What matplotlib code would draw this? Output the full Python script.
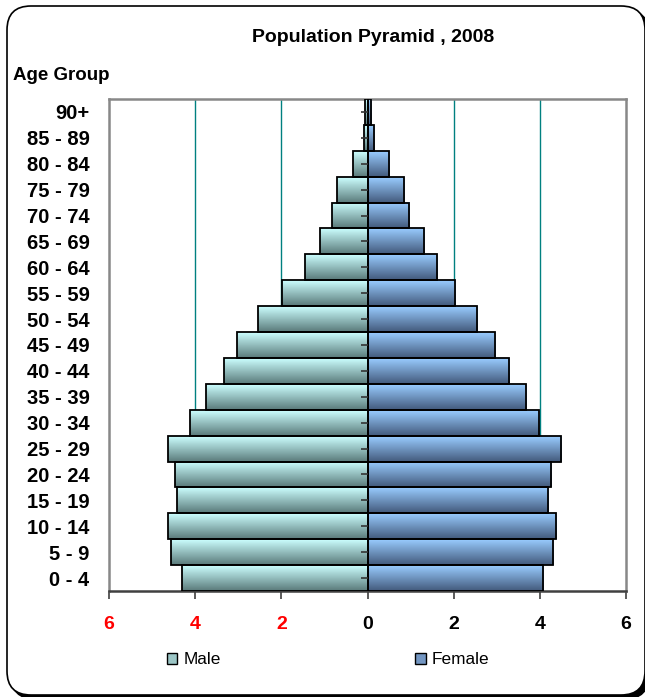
import numpy as np
import matplotlib
matplotlib.use("Agg")
import matplotlib.pyplot as plt
from matplotlib.colors import LinearSegmentedColormap
from matplotlib.patches import FancyBboxPatch, Patch

plt.rcParams['font.family'] = ['Liberation Sans', 'DejaVu Sans']

age_groups = ["0 - 4", "5 - 9", "10 - 14", "15 - 19", "20 - 24", "25 - 29",
              "30 - 34", "35 - 39", "40 - 44", "45 - 49", "50 - 54", "55 - 59",
              "60 - 64", "65 - 69", "70 - 74", "75 - 79", "80 - 84", "85 - 89", "90+"]
male = [4.31, 4.55, 4.62, 4.43, 4.47, 4.62, 4.11, 3.76, 3.33, 3.02, 2.55, 1.99,
        1.46, 1.10, 0.82, 0.71, 0.33, 0.09, 0.05]
female = [4.07, 4.31, 4.38, 4.19, 4.27, 4.50, 3.99, 3.68, 3.28, 2.97, 2.54, 2.03,
          1.61, 1.30, 0.97, 0.85, 0.51, 0.15, 0.08]
xticks = [-6, -4, -2, 0, 2, 4, 6]
xtick_labels = ["6", "4", "2", "0", "2", "4", "6"]

male_cmap = LinearSegmentedColormap.from_list("m", ["#ccffff", "#5a7a7a"])
female_cmap = LinearSegmentedColormap.from_list("f", ["#99ccff", "#435a7c"])

fig = plt.figure(figsize=(6.45, 6.97), dpi=100)

# outer rounded frame with a shadow, in pixels (right side runs off the canvas)
shadow = FancyBboxPatch((11, -2), 638, 689, boxstyle="round,pad=0,rounding_size=24",
                        transform=None, facecolor="black", edgecolor="black", zorder=-3)
frame = FancyBboxPatch((7, 2), 638, 689, boxstyle="round,pad=0,rounding_size=24",
                       transform=None, facecolor="white", edgecolor="black",
                       linewidth=1.2, zorder=-2)
fig.patches.extend([shadow, frame])

ax = fig.add_axes([109 / 645, 1 - 591 / 697, 517 / 645, 492 / 697])
ax.set_facecolor("none")

y = np.arange(len(age_groups))
m_neg = -np.array(male)
f_pos = np.array(female)

grad = np.linspace(0, 1, 64).reshape(-1, 1)
for bars, cmap in [(ax.barh(y, m_neg, height=1.0, facecolor="none", edgecolor="black",
                            linewidth=1.3, zorder=4), male_cmap),
                   (ax.barh(y, f_pos, height=1.0, facecolor="none", edgecolor="black",
                            linewidth=1.3, zorder=4), female_cmap)]:
    for b in bars:
        x0, y0 = b.get_x(), b.get_y()
        x1, y1 = x0 + b.get_width(), y0 + b.get_height()
        ax.imshow(grad, cmap=cmap, extent=[min(x0, x1), max(x0, x1), y0, y1],
                  origin="upper", aspect="auto", zorder=3, interpolation="bilinear")

# small ticks on the centre axis
ax.plot(np.zeros(len(y)), y, linestyle="none", marker=0, markersize=5,
        color="#333333", markeredgewidth=1.2, zorder=5)

ax.set_xlim(-6, 6)
ax.set_ylim(-0.5, len(age_groups) - 0.5)
ax.set_xticks(xticks)
ax.set_xticklabels(xtick_labels, fontsize=14, fontweight="bold")
for lbl in ax.get_xticklabels()[:3]:
    lbl.set_color("red")
ax.set_yticks(y)
ax.set_yticklabels(age_groups, fontsize=14.5, fontweight="bold")
ax.tick_params(axis="y", length=0, pad=14)
ax.tick_params(axis="x", length=6, width=1.2, color="#404040", pad=12, direction="out")

for x in [-4, -2, 2, 4]:
    ax.axvline(x, color="#008080", linewidth=1, zorder=1)

for side in ["top", "left", "right"]:
    ax.spines[side].set_color("#888888")
    ax.spines[side].set_linewidth(1.8)
ax.spines["bottom"].set_color("#404040")
ax.spines["bottom"].set_linewidth(1.8)

fig.text(373 / 645, 1 - 38 / 697, "Population Pyramid , 2008", ha="center",
         va="center", fontsize=14, fontweight="bold")
fig.text(13 / 645, 1 - 75 / 697, "Age Group", ha="left", va="center",
         fontsize=13.5, fontweight="bold")

handles = [Patch(facecolor="#9cc6c6", edgecolor="black", label="Male"),
           Patch(facecolor="#7396c2", edgecolor="black", label="Female")]
fig.legend(handles=handles, loc="center", bbox_to_anchor=(328 / 645, 1 - 660 / 697),
           ncol=2, frameon=False, fontsize=12.4, handlelength=0.6, handleheight=0.6,
           handletextpad=0.35, columnspacing=11.3)

fig.savefig("out.png", dpi=100)
